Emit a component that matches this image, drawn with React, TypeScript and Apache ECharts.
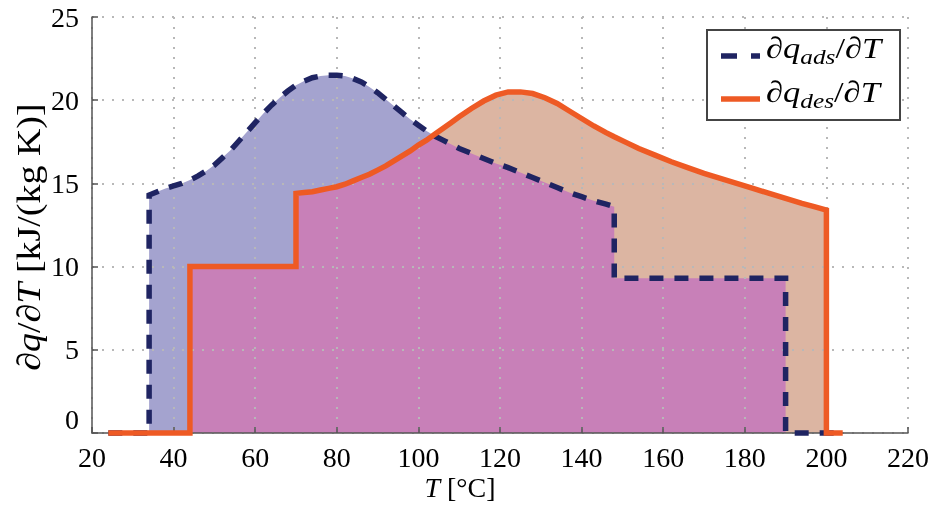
import React, { useEffect, useRef } from "react";
import * as echarts from "echarts";

// ---- data ----
// temperature grid [°C]; repeated values mark the vertical jumps
const T = [
  24, 34, 34, 36, 38, 40, 42, 44, 44, 46,
  48, 50, 52, 54, 56, 58, 60, 62, 64, 66,
  68, 70, 70, 72, 74, 76, 78, 80, 82, 84,
  86, 88, 90, 92, 94, 96, 98, 100, 102, 104,
  106, 108, 110, 113, 116, 119, 122, 125, 128, 131,
  134, 137, 140, 143, 146, 148, 148, 151, 154, 158,
  162, 166, 170, 174, 178, 182, 186, 190, 190, 194,
  197, 200, 200, 204,
];
// ∂q_ads/∂T [kJ/(kg K)]
const qAds = [
  0, 0, 14.3, 14.5, 14.7, 14.85, 15.0, 15.2, 15.2, 15.45,
  15.75, 16.1, 16.55, 17.0, 17.55, 18.1, 18.65, 19.2, 19.7, 20.15,
  20.55, 20.9, 20.9, 21.15, 21.35, 21.45, 21.5, 21.5, 21.45, 21.3,
  21.1, 20.8, 20.45, 20.05, 19.65, 19.25, 18.85, 18.5, 18.15, 17.85,
  17.6, 17.35, 17.1, 16.8, 16.5, 16.2, 15.95, 15.65, 15.35, 15.05,
  14.75, 14.45, 14.2, 13.95, 13.75, 13.6, 9.3, 9.3, 9.3, 9.3,
  9.3, 9.3, 9.3, 9.3, 9.3, 9.3, 9.3, 9.3, 0, 0,
  0, 0, 0, 0,
];
// ∂q_des/∂T [kJ/(kg K)]
const qDes = [
  0, 0, 0, 0, 0, 0, 0, 0, 10, 10,
  10, 10, 10, 10, 10, 10, 10, 10, 10, 10,
  10, 10, 14.4, 14.45, 14.5, 14.6, 14.7, 14.8, 14.95, 15.15,
  15.35, 15.55, 15.8, 16.05, 16.35, 16.65, 16.95, 17.3, 17.6, 17.95,
  18.3, 18.65, 19.0, 19.5, 19.95, 20.3, 20.5, 20.5, 20.4, 20.15,
  19.8, 19.35, 18.9, 18.45, 18.05, 17.8, 17.8, 17.45, 17.1, 16.7,
  16.3, 15.95, 15.6, 15.3, 15.0, 14.7, 14.4, 14.1, 14.1, 13.8,
  13.6, 13.4, 0, 0,
];

const X_MIN = 20, X_MAX = 220, X_STEP = 20;
const Y_MIN = 0, Y_MAX = 25, Y_STEP = 5;

const legendSubs = ["ads", "des"];
const regionSubs = ["ads", "rück", "des"];

const FONT = "Liberation Serif, Times New Roman, serif";
const NAVY = "#1f2462";
const ORANGE = "#ee5a24";
const LAVENDER = "#a4a3cf";
const PEACH = "#dcb5a2";
const PINK = "#c880b8";

type Part = { t: string; it?: boolean; s: number; dy?: number };

function textRun(ctx: CanvasRenderingContext2D, parts: Part[], x0: number, base: number) {
  const els: any[] = [];
  let x = x0;
  for (const p of parts) {
    ctx.font = `${p.it ? "italic " : ""}${p.s}px "Liberation Serif"`;
    const w = ctx.measureText(p.t).width;
    els.push({
      type: "text",
      x,
      y: base + (p.dy || 0) - 0.3375 * p.s,
      silent: true,
      style: {
        text: p.t,
        fontFamily: FONT,
        fontSize: p.s,
        fontStyle: p.it ? "italic" : "normal",
        fill: "#000",
        align: "left",
        verticalAlign: "middle",
        textAlign: "left",
        textVerticalAlign: "middle",
      },
    });
    x += w;
  }
  return { els, width: x - x0 };
}

export default function App() {
  const ref = useRef<HTMLDivElement>(null);

  useEffect(() => {
    document.body.style.margin = "0";
    const chart = echarts.init(ref.current!, undefined, { renderer: "svg" });
    const ctx = document.createElement("canvas").getContext("2d")!;

    const ads = T.map((t, i) => [t, qAds[i]]);
    const des = T.map((t, i) => [t, qDes[i]]);
    const common = T.map((t, i) => [t, Math.min(qAds[i], qDes[i])]);

    const graphics: any[] = [];

    // y axis name (rotated)
    const yParts: Part[] = [
      { t: "∂", it: true, s: 33 },
      { t: "q", it: true, s: 33 },
      { t: "/", s: 33 },
      { t: "∂", it: true, s: 33 },
      { t: "T", it: true, s: 33 },
      { t: " [kJ/(kg K)]", s: 33 },
    ];
    const yMeasure = textRun(ctx, yParts, 0, 0);
    const yRun = textRun(ctx, yParts, -yMeasure.width / 2, 0);
    graphics.push({
      type: "group",
      x: 40,
      y: 237,
      rotation: Math.PI / 2,
      scaleX: Math.min(1.15, 287 / yMeasure.width),
      children: yRun.els,
    });

    // x axis name
    const xParts: Part[] = [
      { t: "T", it: true, s: 28 },
      { t: " [°C]", s: 28 },
    ];
    const xMeasure = textRun(ctx, xParts, 0, 0);
    graphics.push(...textRun(ctx, xParts, 460 - xMeasure.width / 2, 497).els);

    // region labels
    const regionPos = [
      [222, 233],
      [397, 325],
      [685, 248],
    ];
    regionSubs.forEach((sub, i) => {
      const [x, b] = regionPos[i];
      graphics.push(
        ...textRun(ctx, [
          { t: "q", it: true, s: 29 },
          { t: sub, it: true, s: 21, dy: 5 },
        ], x, b).els
      );
    });

    // legend box
    graphics.push({
      type: "rect",
      shape: { x: 707, y: 30, width: 193, height: 90 },
      style: { fill: "#fff", stroke: "#444", lineWidth: 2 },
      z: 10,
    });
    graphics.push({
      type: "line",
      shape: { x1: 721, y1: 56, x2: 760, y2: 56 },
      style: { stroke: NAVY, lineWidth: 5.5, lineDash: [16, 14] },
      z: 11,
    });
    graphics.push({
      type: "line",
      shape: { x1: 721, y1: 99, x2: 760, y2: 99 },
      style: { stroke: ORANGE, lineWidth: 5.5 },
      z: 11,
    });
    const legBase = [58, 102];
    legendSubs.forEach((sub, i) => {
      const parts: Part[] = [
        { t: "∂", it: true, s: 30 },
        { t: "q", it: true, s: 30 },
        { t: sub, it: true, s: 22, dy: 6 },
        { t: "/", s: 30 },
        { t: "∂", it: true, s: 30 },
        { t: "T", it: true, s: 30 },
      ];
      const r = textRun(ctx, parts, 0, 0);
      graphics.push({
        type: "group",
        x: 766,
        y: legBase[i],
        scaleX: Math.min(1.15, 127 / r.width),
        z: 12,
        children: r.els.map((e) => ({ ...e, z: 12 })),
      });
    });

    const tickRich = {
      t: { fontFamily: FONT, fontSize: 28, color: "#000", fontStyle: "normal", fontWeight: "normal" },
    };

    const axisCommon = {
      z: 2,
      axisLine: { show: true, lineStyle: { color: "#555", width: 1.5 } },
      axisTick: { show: true, inside: true, length: 6, lineStyle: { color: "#555", width: 1.5 } },
      splitLine: { show: true, lineStyle: { color: "#b8b8b8", width: 2, type: [2, 8] } },
    };

    const areaSeries = (data: number[][], color: string) => ({
      type: "line",
      data,
      symbol: "none",
      clip: false,
      z: 1,
      lineStyle: { width: 0, opacity: 0 },
      areaStyle: { color, opacity: 1 },
      silent: true,
    });

    chart.setOption({
      animation: false,
      textStyle: { fontFamily: FONT },
      grid: { left: 92, right: 19, top: 17, bottom: 73, containLabel: false },
      xAxis: {
        type: "value",
        min: X_MIN,
        max: X_MAX,
        interval: X_STEP,
        ...axisCommon,
        axisLabel: {
          fontFamily: FONT,
          fontSize: 28,
          color: "#000",
          margin: 10,
          formatter: (v: number) => `{t|${v}}`,
          rich: tickRich,
        },
      },
      yAxis: {
        type: "value",
        min: Y_MIN,
        max: Y_MAX,
        interval: Y_STEP,
        ...axisCommon,
        axisLabel: {
          fontFamily: FONT,
          fontSize: 28,
          color: "#000",
          margin: 13,
          verticalAlignMinLabel: "bottom",
          formatter: (v: number) => `{t|${v}}`,
          rich: tickRich,
        },
      },
      series: [
        areaSeries(ads, LAVENDER),
        areaSeries(des, PEACH),
        areaSeries(common, PINK),
        {
          type: "line",
          data: ads,
          symbol: "none",
          clip: false,
          z: 3,
          lineStyle: { color: NAVY, width: 5.5, type: [14, 11], cap: "butt", join: "miter" },
        },
        {
          type: "line",
          data: des,
          symbol: "none",
          clip: false,
          z: 4,
          lineStyle: { color: ORANGE, width: 5.5, join: "miter" },
        },
      ],
      graphic: graphics,
    });

    return () => chart.dispose();
  }, []);

  return <div ref={ref} style={{ position: "fixed", left: 0, top: 0, width: 932, height: 506 }} />;
}
